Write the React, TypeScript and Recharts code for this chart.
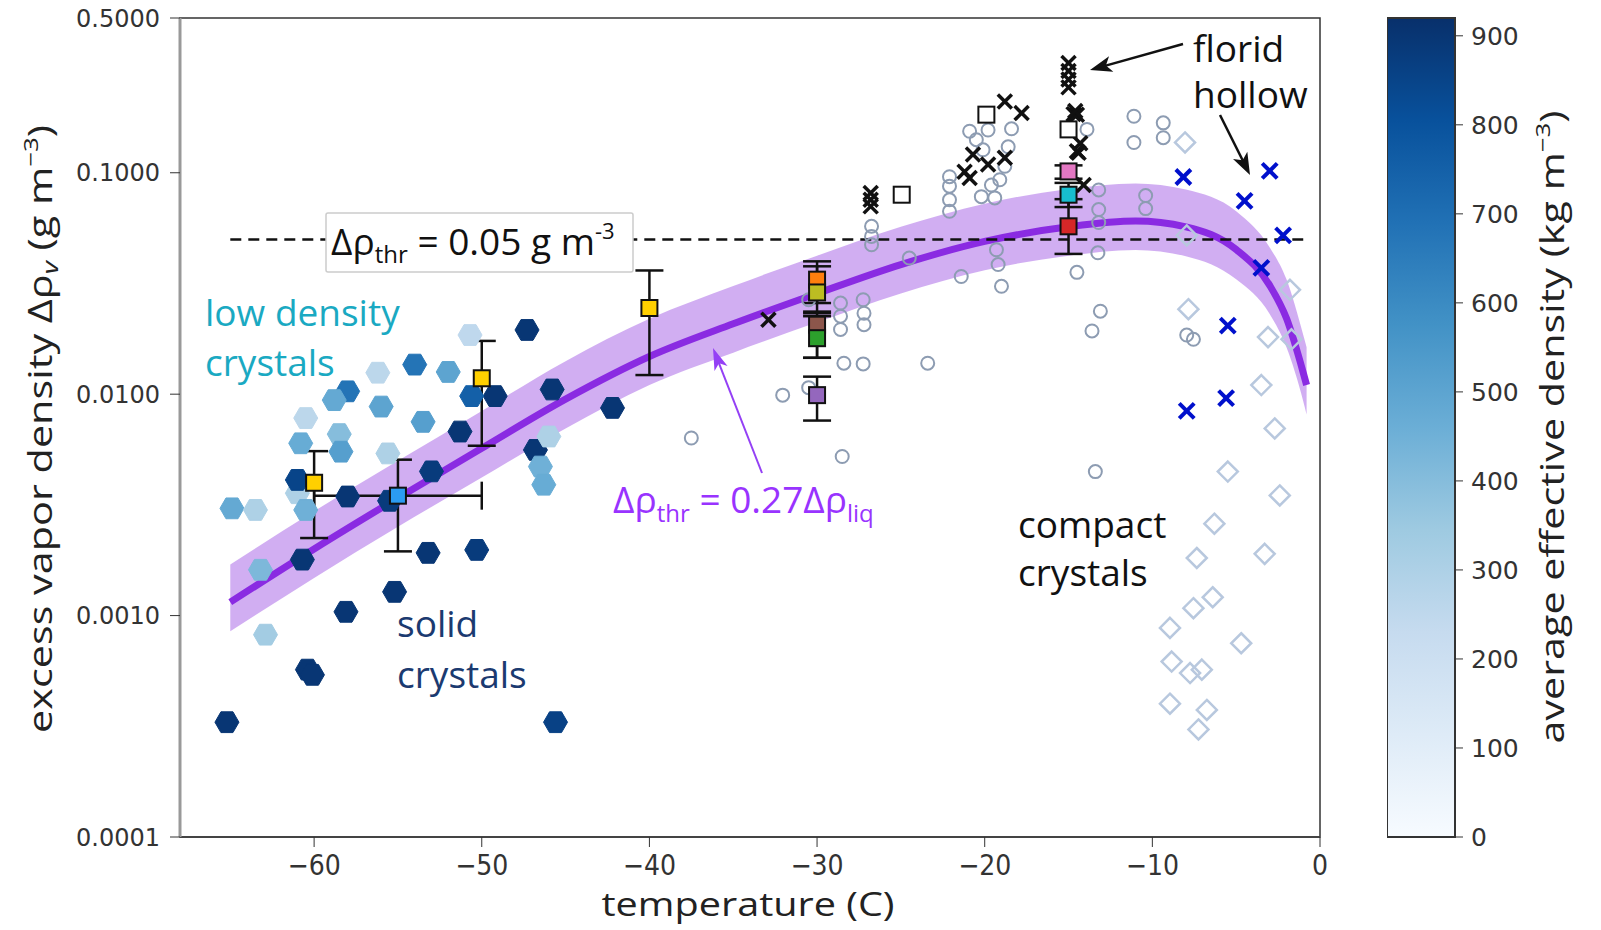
import React from 'react';
import {
  ComposedChart,
  Scatter,
  Line,
  Area,
  XAxis,
  YAxis,
  ReferenceLine,
  ReferenceArea,
  ErrorBar,
} from 'recharts';

// solid crystals (hexagons): temperature, excess vapor density, effective density
const hexT = [-64.9, -63.5, -63.2, -62.9, -60.4, -65.2, -58.1, -55.2, -53.2, -50.3, -60.7, -58.0, -55.5, -53.0, -51.3, -49.2, -50.6, -47.3, -45.8, -42.2, -46.8, -46.0, -46.5, -46.3, -45.6, -50.7, -54.0, -52.0, -56.2, -56.0, -58.0, -58.8, -60.5, -53.5, -60.8, -58.5, -58.4, -55.6, -61.0, -60.5, -61.0, -60.1];
const hexV = [0.00305, 0.0030, 0.00161, 0.00082, 0.00057, 0.00033, 0.00104, 0.00128, 0.00192, 0.00198, 0.00179, 0.00345, 0.0033, 0.00448, 0.00678, 0.0098, 0.0098, 0.0195, 0.0105, 0.00867, 0.0056, 0.00644, 0.00471, 0.0039, 0.00033, 0.0185, 0.0136, 0.0126, 0.0125, 0.00879, 0.0103, 0.0094, 0.0078, 0.0075, 0.0060, 0.0066, 0.0055, 0.0054, 0.00357, 0.0030, 0.0041, 0.00054];
const hexRho = [480, 300, 420, 330, 900, 900, 900, 900, 900, 880, 900, 900, 880, 880, 900, 900, 750, 900, 900, 900, 900, 300, 450, 470, 860, 250, 680, 500, 260, 500, 680, 480, 260, 520, 470, 400, 520, 300, 300, 450, 850, 900];

// compact crystals (open circles)
const circT = [-37.5, -32.05, -28.5, -28.4, -27.25, -28.6, -28.6, -28.6, -27.25, -27.2, -27.2, -30.5, -30.5, -26.75, -26.75, -26.75, -23.4, -24.5, -21.4, -19.3, -19.2, -19.0, -22.1, -22.1, -22.1, -22.1, -20.9, -20.5, -19.8, -18.4, -18.6, -18.8, -19.1, -20.2, -19.4, -19.6, -20.1, -11.1, -11.1, -9.35, -9.35, -10.4, -10.4, -13.2, -13.2, -13.2, -13.25, -13.9, -14.5, -13.1, -13.6, -13.4, -7.95, -7.55];
const circV = [0.00634, 0.0099, 0.00523, 0.0138, 0.0137, 0.0258, 0.0225, 0.0196, 0.0267, 0.0232, 0.0206, 0.0267, 0.0107, 0.0573, 0.0516, 0.0473, 0.0138, 0.0412, 0.034, 0.0449, 0.0385, 0.0307, 0.096, 0.087, 0.0755, 0.067, 0.154, 0.141, 0.156, 0.158, 0.131, 0.107, 0.093, 0.078, 0.077, 0.088, 0.127, 0.180, 0.137, 0.168, 0.144, 0.0789, 0.0689, 0.0836, 0.0682, 0.0596, 0.0435, 0.157, 0.0355, 0.0237, 0.0193, 0.00447, 0.0185, 0.0177];

// diamonds near 0 C
const diaT = [-8.05, -7.95, -7.85, -1.79, -1.7, -3.1, -3.5, -2.7, -5.5, -2.4, -6.3, -7.35, -3.3, -6.4, -7.55, -8.95, -4.7, -8.85, -7.75, -7.05, -8.95, -6.75, -7.25];
const diaV = [0.137, 0.0521, 0.0242, 0.0296, 0.0177, 0.0181, 0.011, 0.0070, 0.00447, 0.00349, 0.0026, 0.00182, 0.0019, 0.00121, 0.00108, 0.00088, 0.00075, 0.00062, 0.00055, 0.00057, 0.0004, 0.000375, 0.000306];

// florid crystals (black x)
const floT = [-32.9, -26.8, -26.8, -26.8, -21.2, -20.7, -19.8, -18.8, -20.9, -18.8, -17.8, -14.5, -14.3, -14.4, -14.1, -15.0, -15.0, -15.0, -15.0, -14.7, -14.6, -14.5];
const floV = [0.0217, 0.081, 0.0755, 0.0705, 0.101, 0.121, 0.109, 0.117, 0.0946, 0.21, 0.186, 0.183, 0.136, 0.123, 0.088, 0.313, 0.288, 0.264, 0.243, 0.184, 0.19, 0.125];

// hollow crystals (blue x)
const holT = [-8.15, -4.5, -3.0, -2.2, -3.5, -5.5, -5.6, -7.95];
const holV = [0.0957, 0.0746, 0.102, 0.0521, 0.0372, 0.0204, 0.0096, 0.0084];

// open squares
const openT = [-24.95, -19.9, -15.0];
const openV = [0.0796, 0.183, 0.157];

// lab measurements with error bars
const sqT = [-60, -50, -40, -30, -30, -30, -30, -30, -15, -15, -15];
const sqV = [0.00398, 0.0118, 0.0245, 0.0329, 0.0288, 0.0206, 0.0179, 0.0099, 0.1014, 0.0796, 0.0573];
const sqLo = [0.00224, 0.00585, 0.0122, 0.0258, 0.0232, 0.0146, 0.0146, 0.0076, 0.094, 0.070, 0.043];
const sqHi = [0.00553, 0.0174, 0.0362, 0.0398, 0.0378, 0.0236, 0.0225, 0.0120, 0.108, 0.090, 0.076];
const SQ_COLORS = ['#ffd000', '#ffd000', '#ffd000', '#ff7f0e', '#bcbd22', '#8c564b', '#2ca02c', '#9467bd', '#e377c2', '#17becf', '#d62728'];

// single point with x and y error
const bsT = [-55];
const bsV = [0.00348];
const bsLo = [0.00195];
const bsHi = [0.00506];
const bsXErr = [5];

// threshold curve 0.27 * liquid excess, with band
const curveT = [-65, -60, -55, -50, -45, -40, -35, -30, -25, -20, -15, -11, -8, -5, -3, -2, -1, -0.8];
const curveMid = [0.00115, 0.0020, 0.0034, 0.0057, 0.0095, 0.0148, 0.0208, 0.0285, 0.0385, 0.049, 0.057, 0.0605, 0.057, 0.045, 0.031, 0.022, 0.0125, 0.011];
const curveLo = [0.00085, 0.00148, 0.00252, 0.0042, 0.0070, 0.0110, 0.0154, 0.0211, 0.0285, 0.0363, 0.0422, 0.0448, 0.042, 0.033, 0.023, 0.0163, 0.0093, 0.0081];
const curveHi = [0.0017, 0.00296, 0.0050, 0.0084, 0.0141, 0.0219, 0.0308, 0.0422, 0.057, 0.0725, 0.0844, 0.0895, 0.084, 0.067, 0.046, 0.033, 0.0185, 0.0163];

const yTicks = [0.0001, 0.001, 0.01, 0.1, 0.5];
const xTicks = [-60, -50, -40, -30, -20, -10, 0];
const cbTicks = [0, 100, 200, 300, 400, 500, 600, 700, 800, 900];
const RHO_MAX = 920;
const THRESHOLD = 0.05;

const BLUES = ['#f7fbff', '#deebf7', '#c6dbef', '#9ecae1', '#6baed6', '#4292c6', '#2171b5', '#08519c', '#08306b'];

function rgb(h: string) {
  return [1, 3, 5].map((i) => parseInt(h.slice(i, i + 2), 16));
}
function blues(v: number) {
  const t = Math.max(0, Math.min(1, v / RHO_MAX)) * (BLUES.length - 1);
  const i = Math.min(Math.floor(t), BLUES.length - 2);
  const f = t - i;
  const a = rgb(BLUES[i]);
  const b = rgb(BLUES[i + 1]);
  const c = a.map((x, k) => Math.round(x + (b[k] - x) * f));
  return `rgb(${c[0]},${c[1]},${c[2]})`;
}

const hexData = hexT.map((x, i) => ({ x, y: hexV[i], rho: hexRho[i] }));
const circData = circT.map((x, i) => ({ x, y: circV[i] }));
const diaData = diaT.map((x, i) => ({ x, y: diaV[i] }));
const floData = floT.map((x, i) => ({ x, y: floV[i] }));
const holData = holT.map((x, i) => ({ x, y: holV[i] }));
const openData = openT.map((x, i) => ({ x, y: openV[i] }));
const sqData = sqT.map((x, i) => ({ x, y: sqV[i], ey: [sqV[i] - sqLo[i], sqHi[i] - sqV[i]], c: SQ_COLORS[i] }));
const bsData = bsT.map((x, i) => ({ x, y: bsV[i], ey: [bsV[i] - bsLo[i], bsHi[i] - bsV[i]], ex: bsXErr[i], c: '#2b9cf2' }));
const curveData = curveT.map((x, i) => ({ x, y: curveMid[i], band: [curveLo[i], curveHi[i]] }));

const Hex = (p: any) => {
  const { cx, cy, payload } = p;
  if (cx == null) return null;
  const r = 12;
  const pts = [0, 1, 2, 3, 4, 5]
    .map((k) => `${cx + r * Math.cos((Math.PI / 3) * k)},${cy + r * Math.sin((Math.PI / 3) * k)}`)
    .join(' ');
  const c = blues(payload.rho);
  return <polygon points={pts} fill={c} stroke={c} strokeWidth={1} />;
};
const Ring = (p: any) =>
  p.cx == null ? null : <circle cx={p.cx} cy={p.cy} r={6.5} fill="none" stroke="#8d9cb2" strokeWidth={2} />;
const Diamond = (p: any) => {
  const { cx, cy } = p;
  if (cx == null) return null;
  const s = 10;
  return (
    <polygon
      points={`${cx},${cy - s} ${cx + s},${cy} ${cx},${cy + s} ${cx - s},${cy}`}
      fill="none"
      stroke="#b8c8de"
      strokeWidth={2.5}
    />
  );
};
const makeCross = (color: string, s: number, w: number) => (p: any) => {
  const { cx, cy } = p;
  if (cx == null) return null;
  return (
    <g stroke={color} strokeWidth={w}>
      <line x1={cx - s} y1={cy - s} x2={cx + s} y2={cy + s} />
      <line x1={cx - s} y1={cy + s} x2={cx + s} y2={cy - s} />
    </g>
  );
};
const BlackX = makeCross('#111', 7, 3.5);
const BlueX = makeCross('#0010cc', 7.5, 4);
const Square = (p: any) => {
  const { cx, cy, payload } = p;
  if (cx == null) return null;
  return <rect x={cx - 8} y={cy - 8} width={16} height={16} fill={payload.c || '#fff'} stroke="#111" strokeWidth={2} />;
};

function Arrow({ x1, y1, x2, y2, color, w, head, hw }: any) {
  const dx = x2 - x1;
  const dy = y2 - y1;
  const L = Math.hypot(dx, dy);
  const ux = dx / L;
  const uy = dy / L;
  const bx = x2 - ux * head;
  const by = y2 - uy * head;
  const pts = `${x2},${y2} ${bx - uy * hw},${by + ux * hw} ${bx + ux * head * 0.25},${by + uy * head * 0.25} ${bx + uy * hw},${by - ux * hw}`;
  return (
    <g>
      <line x1={x1} y1={y1} x2={bx + ux * head * 0.3} y2={by + uy * head * 0.3} stroke={color} strokeWidth={w} />
      <polygon points={pts} fill={color} />
    </g>
  );
}

const tickFont = { fontFamily: 'DejaVu Sans', fill: '#333' };
const annFont = 'Open Sans';

export default function App() {
  return (
    <div style={{ position: 'absolute', left: 0, top: 0, width: 1601, height: 930, background: '#fff' }}>
      <svg width={0} height={0} style={{ position: 'absolute' }}>
        <defs>
          <linearGradient id="bluesBar" x1="0" y1="1" x2="0" y2="0">
            {BLUES.map((c, i) => (
              <stop key={i} offset={i / (BLUES.length - 1)} stopColor={c} />
            ))}
          </linearGradient>
        </defs>
      </svg>

      <div style={{ position: 'absolute', left: 0, top: 0 }}>
        <ComposedChart width={1340} height={930} margin={{ top: 18, right: 20, bottom: 0, left: 0 }}>
          <XAxis
            type="number"
            dataKey="x"
            domain={[-68, 0]}
            ticks={xTicks}
            allowDataOverflow
            height={93}
            tickSize={10}
            tickMargin={8}
            tick={{ ...tickFont, fontFamily: 'DejaVu Sans Condensed', fontSize: 28 }}
            tickFormatter={(v: number) => (v < 0 ? '\u2212' + Math.abs(v) : String(v))}
            stroke="#333"
            axisLine={{ stroke: '#444', strokeWidth: 2 }}
          />
          <YAxis
            type="number"
            dataKey="y"
            scale="log"
            domain={[0.0001, 0.5]}
            ticks={yTicks}
            allowDataOverflow
            width={180}
            tickSize={10}
            tickMargin={10}
            tick={{ ...tickFont, fontSize: 24 }}
            tickFormatter={(v: number) => v.toFixed(4)}
            stroke="#333"
            axisLine={{ stroke: '#999', strokeWidth: 3 }}
          />
          <Scatter data={hexData} dataKey="y" shape={Hex} isAnimationActive={false} />
          <Scatter data={circData} dataKey="y" shape={Ring} isAnimationActive={false} />
          <Scatter data={diaData} dataKey="y" shape={Diamond} isAnimationActive={false} />
          <Area
            data={curveData}
            dataKey="band"
            type="monotone"
            stroke="none"
            fill="#a45ee5"
            fillOpacity={0.5}
            isAnimationActive={false}
          />
          <Line
            data={curveData}
            dataKey="y"
            type="monotone"
            stroke="#8a2be2"
            strokeWidth={7}
            dot={false}
            isAnimationActive={false}
          />
          <ReferenceLine
            segment={[
              { x: -65, y: THRESHOLD },
              { x: -1, y: THRESHOLD },
            ]}
            stroke="#111"
            strokeWidth={2.5}
            strokeDasharray="11 7"
          />
          <Scatter data={floData} dataKey="y" shape={BlackX} isAnimationActive={false} />
          <Scatter data={holData} dataKey="y" shape={BlueX} isAnimationActive={false} />
          <Scatter data={openData} dataKey="y" shape={Square} isAnimationActive={false} />
          <Scatter data={sqData} dataKey="y" shape={Square} isAnimationActive={false}>
            <ErrorBar dataKey="ey" direction="y" width={14} stroke="#111" strokeWidth={2.5} />
          </Scatter>
          <Scatter data={bsData} dataKey="y" shape={Square} isAnimationActive={false}>
            <ErrorBar dataKey="ey" direction="y" width={14} stroke="#111" strokeWidth={2.5} />
            <ErrorBar dataKey="ex" direction="x" width={14} stroke="#111" strokeWidth={2.5} />
          </Scatter>
          <ReferenceArea x1={-68} x2={0} y1={0.0001} y2={0.5} fill="none" stroke="#333" strokeWidth={1.5} />
        </ComposedChart>
      </div>

      <div style={{ position: 'absolute', left: 1387, top: 0 }}>
        <ComposedChart
          width={214}
          height={930}
          data={[{ x: 0, y: 0 }, { x: 1, y: RHO_MAX }]}
          margin={{ top: 18, right: 0, bottom: 93, left: 0 }}
        >
          <XAxis type="number" dataKey="x" domain={[0, 1]} hide height={0} />
          <YAxis
            type="number"
            dataKey="y"
            orientation="right"
            domain={[0, RHO_MAX]}
            ticks={cbTicks}
            allowDataOverflow
            width={146}
            tickSize={8}
            tickMargin={8}
            axisLine={false}
            stroke="#333"
            tick={{ ...tickFont, fontSize: 25 }}
          />
          <ReferenceArea x1={0} x2={1} y1={0} y2={RHO_MAX} fill="url(#bluesBar)" fillOpacity={1} stroke="#333" strokeWidth={2} />
        </ComposedChart>
      </div>

      <svg width={1601} height={930} style={{ position: 'absolute', left: 0, top: 0, pointerEvents: 'none' }}>
        <g fontFamily={annFont}>
          <text transform="translate(52,429) rotate(-90)" textAnchor="middle" fontSize={32} fill="#222" textLength={608} lengthAdjust="spacingAndGlyphs">
            excess vapor density Δρ<tspan fontStyle="italic" fontSize={22} dy={6}>v</tspan>
            <tspan dy={-6}> (g m</tspan>
            <tspan fontSize={20} dy={-14}>−3</tspan>
            <tspan dy={14}>)</tspan>
          </text>
          <text x={748} y={916} textAnchor="middle" fontSize={32} fill="#222" textLength={293} lengthAdjust="spacingAndGlyphs">
            temperature (C)
          </text>
          <text transform="translate(1564,427) rotate(-90)" textAnchor="middle" fontSize={32} fill="#222" textLength={633} lengthAdjust="spacingAndGlyphs">
            average effective density (kg m<tspan fontSize={20} dy={-14}>−3</tspan>
            <tspan dy={14}>)</tspan>
          </text>

          <rect x={326} y={213} width={307} height={59} fill="#fff" stroke="#ccc" strokeWidth={1.5} rx={2} />
          <text x={331} y={255} fontSize={37} fill="#111">
            Δρ<tspan fontSize={24} dy={8}>thr</tspan>
            <tspan dy={-8}> = 0.05 g m</tspan>
            <tspan fontSize={22} dy={-16}>-3</tspan>
          </text>

          <text x={613} y={513} fontSize={37} fill="#9933ff">
            Δρ<tspan fontSize={24} dy={9}>thr</tspan>
            <tspan dy={-9}> = 0.27Δρ</tspan>
            <tspan fontSize={24} dy={9}>liq</tspan>
          </text>

          <text x={205} y={326} fontSize={37} fill="#1aa9c2">low density</text>
          <text x={205} y={376} fontSize={37} fill="#1aa9c2">crystals</text>
          <text x={397} y={637} fontSize={37} fill="#1b3a70">solid</text>
          <text x={397} y={688} fontSize={37} fill="#1b3a70">crystals</text>
          <text x={1018} y={538} fontSize={37} fill="#111">compact</text>
          <text x={1018} y={586} fontSize={37} fill="#111">crystals</text>
          <text x={1193} y={62} fontSize={37} fill="#111">florid</text>
          <text x={1193} y={108} fontSize={37} fill="#111">hollow</text>
        </g>
        <Arrow x1={1183} y1={44} x2={1090} y2={70} color="#111" w={2.5} head={22} hw={8} />
        <Arrow x1={1220} y1={115} x2={1250} y2={175} color="#111" w={2.5} head={22} hw={8} />
        <Arrow x1={762} y1={473} x2={713} y2={348} color="#9440f5" w={2} head={22} hw={7} />
      </svg>
    </div>
  );
}
